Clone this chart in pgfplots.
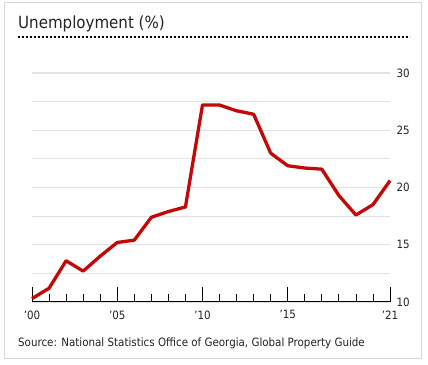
\documentclass[border=0pt]{standalone}
\usepackage{pgfplots}
\pgfplotsset{compat=1.18}
\usepackage{fontspec}
\setmainfont{DejaVu Sans Condensed}
\definecolor{linered}{RGB}{196,8,8}
\definecolor{gridgray}{RGB}{226,226,226}
\definecolor{txt}{RGB}{35,35,35}
\definecolor{framegray}{RGB}{215,215,215}
\begin{document}
\begin{tikzpicture}
\useasboundingbox (0,0) rectangle (428bp,365bp);
\fill[white] (0,0) rectangle (428bp,365bp);
\draw[framegray, line width=1bp] (4bp,6bp) rectangle (421bp,362bp);
\node[anchor=base west, font=\fontsize{16.8}{19}\selectfont, text=txt, inner sep=0] at (18bp,336bp) {Unemployment (\%)};
\draw[black, dash pattern=on 2bp off 2bp, line width=2bp] (18bp,328bp) -- (410bp,328bp);
\node[anchor=base west, font=\fontsize{11.5}{13}\selectfont, text=txt, inner sep=0] at (18bp,19bp) {Source: National Statistics Office of Georgia, Global Property Guide};
\begin{axis}[
  at={(32bp,63bp)}, anchor=south west,
  scale only axis, width=358bp, height=229bp,
  xmin=2000, xmax=2021, ymin=10, ymax=30,
  axis x line=bottom, axis y line=right,
  axis line style={-},
  x axis line style={black, line width=1bp},
  y axis line style={draw=none},
  ytick={10,15,20,25,30},
  minor ytick={12.5,17.5,22.5,27.5},
  ymajorgrids, yminorgrids,
  grid style={gridgray, line width=1.2bp},
  minor grid style={gridgray, line width=1.2bp},
  ytick style={draw=none},
  minor y tick style={draw=none},
  /pgf/number format/assume math mode=true,
  yticklabel style={font=\fontsize{11.5}{13}\selectfont, text=txt, xshift=3bp},
  xtick={2000,2005,2010,2015,2021},
  xticklabels={'00,'05,'10,'15,'21},
  minor xtick={2001,2002,2003,2004,2006,2007,2008,2009,2011,2012,2013,2014,2016,2017,2018,2019,2020},
  tick align=inside,
  major tick length=15bp, minor tick length=8bp,
  xtick style={black, line width=0.8bp},
  minor x tick style={black, line width=0.8bp},
  xticklabel style={font=\fontsize{11.5}{13}\selectfont, text=txt, yshift=-5bp},
  clip=false,
]
\addplot[linered, line width=3.3bp, line join=round, mark=none] coordinates {
(2000,10.3) (2001,11.2) (2002,13.6) (2003,12.7) (2004,14.0) (2005,15.2)
(2006,15.4) (2007,17.4) (2008,17.9) (2009,18.3) (2010,27.2) (2011,27.2)
(2012,26.7) (2013,26.4) (2014,23.0) (2015,21.9) (2016,21.7) (2017,21.6)
(2018,19.3) (2019,17.6) (2020,18.5) (2021,20.6)
};
\end{axis}
\end{tikzpicture}
\end{document}
